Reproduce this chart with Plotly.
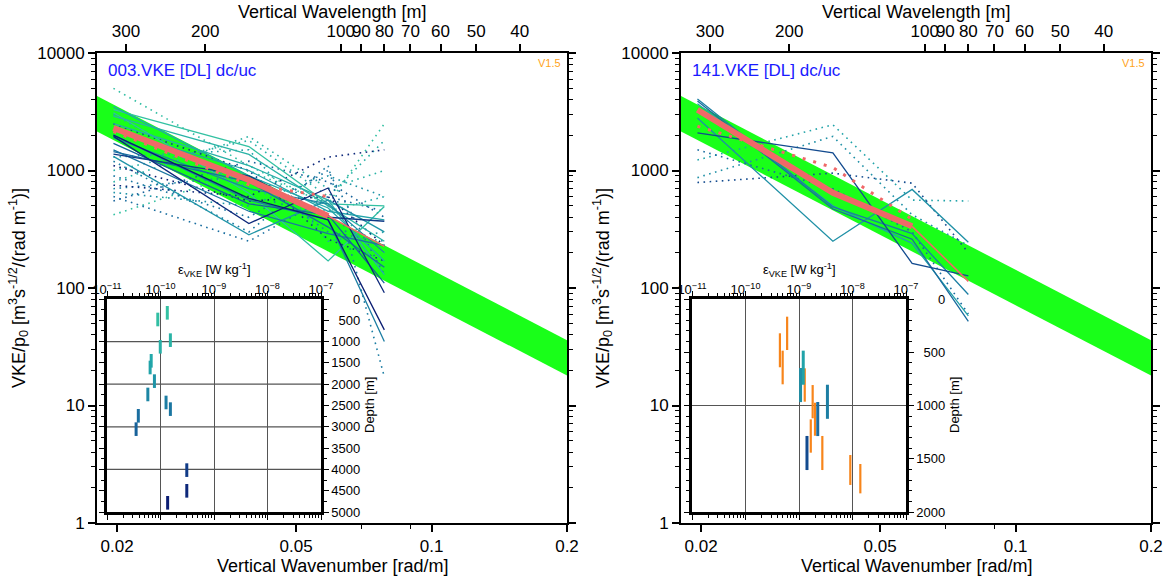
import plotly.graph_objects as go

W, H = 1172, 582
FONT = "Liberation Sans, Arial, Helvetica, sans-serif"
GREEN = "#19ff19"
RED = "#f06868"
ORANGE = "#f7851b"
TITLE_BLUE = "#1a1aff"

# ---------------------------------------------------------------- data
# wavenumber bins of the 320 m spectral window [rad/m]
k_bins = [0.019635, 0.039270, 0.058905, 0.078540]
window_len = 320

# k^-2 reference band, evaluated at the ends of the wavenumber axis
band_k = [0.01805, 0.2]
band_hi = [4300, 36]
band_lo = [2150, 18]

# wavelength ticks of the upper axis [m]
wavelength_ticks = [300, 200, 100, 90, 80, 70, 60, 50, 40]
wavenumber_ticks = [0.02, 0.05, 0.1, 0.2]

# ---- profile 003: segment tops [m], dissipation rate [W/kg]
p003_ztop = [164, 321, 806, 962, 1291, 1448, 1768, 2081, 2269, 2425, 2582, 2895, 3857, 4343, 4624]
p003_eps = [1.34e-10, 8.9e-11, 1.53e-10, 9.9e-11, 6.7e-11, 6.4e-11, 7.7e-11, 5.8e-11,
            1.27e-10, 1.53e-10, 3.85e-11, 3.5e-11, 3.1e-10, 3.1e-10, 1.36e-10]
p003_zmax = 5000
# spectra per segment (downcast solid, upcast dotted)
p003_dc = [
    [3300, 1600, 520, 500],
    [3100, 640, 170, 494],
    [2900, 1370, 500, 250],
    [2500, 1100, 560, 130],
    [3500, 900, 480, 170],
    [2200, 1000, 450, 380],
    [1320, 284, 560, 300],
    [1900, 700, 520, 200],
    [2000, 560, 380, 35],
    [1500, 450, 290, 230],
    [1450, 800, 330, 150],
    [1700, 520, 420, 110],
    [1380, 900, 400, 370],
    [1950, 354, 710, 91],
    [2000, 580, 380, 44],
]
p003_uc = [
    [420, 1000, 520, 2500],
    [5000, 1100, 500, 200],
    [800, 1950, 700, 1000],
    [1000, 1800, 600, 1800],
    [3000, 700, 450, 600],
    [1300, 1500, 250, 300],
    [650, 500, 900, 600],
    [700, 900, 300, 250],
    [1200, 300, 1100, 17.5],
    [900, 400, 1000, 130],
    [600, 250, 600, 450],
    [550, 1200, 800, 400],
    [2500, 1000, 260, 170],
    [750, 600, 1300, 1500],
    [1100, 550, 600, 230],
]
p003_mean = [2300, 830, 410, 226]
p003_mean_uc = [2150, 760, 600]

# ---- profile 141
p141_ztop = [485, 648, 805, 967, 1286]
p141_eps = [1.2e-9, 1.07e-9, 3.4e-9, 2.24e-9, 1.41e-9]
p141_zmax = 2000
p141_dc = [
    [3700, 500, 240, 58],
    [2800, 250, 690, 245],
    [4060, 490, 290, 88],
    [3900, 470, 260, 52],
    [2090, 1410, 162, 127],
]
p141_uc = [
    [1230, 2450, 560, 550],
    [870, 1950, 420, 230],
    None,
    [1500, 700, 300, 60],
    [790, 950, 780, 200],
]
p141_mean = [3290, 645, 335, 114]
p141_mean_uc = [2380, 1060, 384]
# second estimate of the dissipation rate (orange bars)
p141_alt_ztop = [166, 322, 485, 651, 808, 974, 1130, 1286, 1465, 1549]
p141_alt_zbot = [479, 641, 801, 964, 1120, 1284, 1443, 1606, 1746, 1825]
p141_alt_eps = [6.0e-10, 4.4e-10, 4.95e-10, 1.28e-9, 1.8e-9, 1.99e-9, 1.66e-9, 2.73e-9, 9.1e-9, 1.4e-8]


# ---------------------------------------------------------------- helpers
def px(x):
    return x / W


def py(y):
    return 1 - y / H


COLOR_STOPS = [(0.0, (56, 200, 160)), (0.3, (34, 168, 170)), (0.55, (26, 110, 160)),
               (0.8, (16, 60, 135)), (1.0, (10, 20, 110))]


def depth_color(t):
    t = min(max(t, 0.0), 1.0)
    for (t0, c0), (t1, c1) in zip(COLOR_STOPS[:-1], COLOR_STOPS[1:]):
        if t <= t1:
            f = (t - t0) / (t1 - t0)
            r, g, b = (round(a + (b_ - a) * f) for a, b_ in zip(c0, c1))
            return f"rgb({r},{g},{b})"
    return "rgb(10,20,110)"


fig = go.Figure()


def add_panel(ax, ztop, eps, zmax, dc, uc, mean, mean_uc, alt=None):
    xa, ya, xt, xi, yi = ax
    # reference band
    fig.add_trace(go.Scatter(x=band_k + band_k[::-1], y=band_hi + band_lo[::-1],
                             fill="toself", fillcolor=GREEN, mode="lines",
                             line=dict(width=0, color=GREEN),
                             xaxis=xa, yaxis=ya, hoverinfo="skip", showlegend=False))
    colors = [depth_color((z + window_len / 2) / zmax) for z in ztop]
    for spec, c in zip(uc, colors):
        if spec is None:
            continue
        fig.add_trace(go.Scatter(x=k_bins, y=spec, mode="lines",
                                 line=dict(color=c, width=1.6, dash="1.6px,4.5px"),
                                 xaxis=xa, yaxis=ya, hoverinfo="skip", showlegend=False))
    for spec, c in zip(dc, colors):
        fig.add_trace(go.Scatter(x=k_bins, y=spec, mode="lines",
                                 line=dict(color=c, width=1.3),
                                 xaxis=xa, yaxis=ya, hoverinfo="skip", showlegend=False))
    # mean spectra
    fig.add_trace(go.Scatter(x=k_bins[:len(mean_uc)], y=mean_uc, mode="lines",
                             line=dict(color=RED, width=3, dash="3px,8px"),
                             xaxis=xa, yaxis=ya, hoverinfo="skip", showlegend=False))
    fig.add_trace(go.Scatter(x=k_bins[2:], y=mean[2:], mode="lines",
                             line=dict(color=RED, width=1.6),
                             xaxis=xa, yaxis=ya, hoverinfo="skip", showlegend=False))
    fig.add_trace(go.Scatter(x=k_bins[:3], y=mean[:3], mode="lines",
                             line=dict(color=RED, width=6),
                             xaxis=xa, yaxis=ya, hoverinfo="skip", showlegend=False))
    # upper (wavelength) axis carrier
    fig.add_trace(go.Scatter(x=[], y=[], xaxis=xt, yaxis=ya, hoverinfo="skip", showlegend=False))
    # inset: dissipation rate versus depth
    if alt is not None:
        a_top, a_bot, a_eps = alt
        for z0, z1, e in zip(a_top, a_bot, a_eps):
            fig.add_trace(go.Scatter(x=[e, e], y=[z0, z1], mode="lines",
                                     line=dict(color=ORANGE, width=2.2),
                                     xaxis=xi, yaxis=yi, hoverinfo="skip", showlegend=False))
    for z0, e, c in zip(ztop, eps, colors):
        fig.add_trace(go.Scatter(x=[e, e], y=[z0, z0 + window_len], mode="lines",
                                 line=dict(color=c, width=3),
                                 xaxis=xi, yaxis=yi, hoverinfo="skip", showlegend=False))


add_panel(("x", "y", "x2", "x3", "y3"), p003_ztop, p003_eps, p003_zmax,
          p003_dc, p003_uc, p003_mean, p003_mean_uc)
add_panel(("x4", "y4", "x5", "x6", "y6"), p141_ztop, p141_eps, p141_zmax,
          p141_dc, p141_uc, p141_mean, p141_mean_uc,
          alt=(p141_alt_ztop, p141_alt_zbot, p141_alt_eps))

# ---------------------------------------------------------------- axes
XR = [-1.7435, -0.69897]
y_minor = [m * 10 ** e for e in range(0, 4) for m in range(2, 10)]
eps_ticks = [1e-11, 1e-10, 1e-9, 1e-8, 1e-7]
eps_text = ["10<sup>−11</sup>", "10<sup>−10</sup>", "10<sup>−9</sup>", "10<sup>−8</sup>", "10<sup>−7</sup>"]
eps_minor = [m * 10 ** e for e in range(-11, -7) for m in range(2, 10)]

tick_font = dict(family=FONT, size=17, color="black")
small_font = dict(family=FONT, size=13, color="black")


def main_axes(xdom, xname, yname):
    ydom = [py(523), py(53)]
    bottom = dict(type="log", range=XR, domain=xdom, anchor=yname, automargin=False,
                  tickvals=wavenumber_ticks, ticktext=["0.02", "0.05", "0.1", "0.2"],
                  ticks="outside", ticklen=7, tickwidth=1.5, tickcolor="black", tickangle=0,
                  minor=dict(tickvals=[0.07, 0.09], ticks="outside", ticklen=4,
                             tickwidth=1.2, tickcolor="black", showgrid=False),
                  showline=True, linewidth=2, linecolor="black", mirror=False,
                  showgrid=False, zeroline=False, tickfont=tick_font)
    left = dict(type="log", range=[0, 4], domain=ydom, anchor=xname, automargin=False,
                tickvals=[1, 10, 100, 1000, 10000], ticktext=["1", "10", "100", "1000", "10000"],
                ticks="outside", ticklen=7, tickwidth=1.5, tickcolor="black",
                minor=dict(tickvals=y_minor, ticks="outside", ticklen=4,
                           tickwidth=1.2, tickcolor="black", showgrid=False),
                showline=True, linewidth=2, linecolor="black", mirror="ticks",
                showgrid=False, zeroline=False, tickfont=tick_font)
    top = dict(type="log", range=XR, overlaying=xname, anchor=yname, side="top", automargin=False,
               tickvals=[6.283185307 / w for w in wavelength_ticks],
               ticktext=[str(w) for w in wavelength_ticks],
               ticks="outside", ticklen=7, tickwidth=1.5, tickcolor="black", tickangle=0,
               showline=True, linewidth=2, linecolor="black",
               showgrid=False, zeroline=False, tickfont=tick_font)
    return bottom, left, top


def inset_axes(xdom, xname, yname, zmax, minor_step):
    ydom = [py(512), py(299)]
    depth_vals = list(range(0, zmax + 1, 500))
    depth_text = [f"{v:>4}".replace(" ", "\u2007") for v in depth_vals]
    xi = dict(type="log", range=[-11, -7], domain=xdom, anchor=yname, side="top", automargin=False,
              tickvals=eps_ticks, ticktext=eps_text, tickangle=0, ticklabelstandoff=-8,
              ticks="outside", ticklen=5, tickwidth=1.2, tickcolor="black",
              minor=dict(tickvals=eps_minor, ticks="outside", ticklen=3,
                         tickwidth=1, tickcolor="black", showgrid=False),
              showline=True, linewidth=2.5, linecolor="black", mirror="ticks",
              showgrid=True, gridcolor="#555555", gridwidth=1.2, zeroline=False,
              tickfont=small_font)
    yi = dict(range=[zmax, 0], domain=ydom, anchor=xname, side="right", automargin=False,
              tickvals=depth_vals, ticktext=depth_text,
              ticks="outside", ticklen=5, tickwidth=1.2, tickcolor="black",
              minor=dict(dtick=minor_step, ticks="outside", ticklen=3,
                         tickwidth=1, tickcolor="black", showgrid=False),
              showline=True, linewidth=2.5, linecolor="black", mirror="ticks",
              showgrid=False, zeroline=False, tickfont=small_font)
    return xi, yi


b1, l1, t1 = main_axes([px(97), px(567)], "x", "y")
b2, l2, t2 = main_axes([px(681), px(1151)], "x4", "y4")
i1x, i1y = inset_axes([px(107), px(321)], "x3", "y3", p003_zmax, 250)
i2x, i2y = inset_axes([px(692), px(906)], "x6", "y6", p141_zmax, 100)

# horizontal depth grid of the insets
shapes = []
for yref, xref, zmax in (("y3", "x3 domain", p003_zmax), ("y6", "x6 domain", p141_zmax)):
    for z in range(1000, zmax, 1000):
        shapes.append(dict(type="line", xref=xref, yref=yref, x0=0, x1=1, y0=z, y1=z,
                           line=dict(color="#555555", width=1.2), layer="below"))

# ---------------------------------------------------------------- text
ytitle = "VKE/p<sub>0</sub> [m<sup>3</sup>s<sup>-1/2</sup>/(rad m<sup>-1</sup>)]"
eps_title = "ε<sub>VKE</sub> [W kg<sup>-1</sup>]"
ann = []
for x0, x1, label in ((97, 567, "003.VKE [DL] dc/uc"), (681, 1151, "141.VKE [DL] dc/uc")):
    xc = (x0 + x1) / 2
    ann += [
        dict(text="Vertical Wavelength [m]", x=px(xc), y=py(12), font=dict(family=FONT, size=18)),
        dict(text="Vertical Wavenumber [rad/m]", x=px(xc), y=py(566), font=dict(family=FONT, size=18)),
        dict(text=ytitle, x=px(x0 - 79), y=py(288), textangle=-90, font=dict(family=FONT, size=18)),
        dict(text=label, x=px(x0 + 9), y=py(70), xanchor="left",
             font=dict(family=FONT, size=17, color=TITLE_BLUE)),
        dict(text="V1.5", x=px(x1 - 4), y=py(63), xanchor="right",
             font=dict(family=FONT, size=11, color="#ffa31a")),
    ]
for x0, x1 in ((107, 321), (692, 906)):
    ann += [
        dict(text=eps_title, x=px((x0 + x1) / 2), y=py(270), font=dict(family=FONT, size=13)),
        dict(text="Depth [m]", x=px(x1 + 48), y=py(405), textangle=-90, font=dict(family=FONT, size=13)),
    ]
for a in ann:
    a.update(xref="paper", yref="paper", showarrow=False)
    a.setdefault("xanchor", "center")
    a["yanchor"] = "middle"
    a["font"].setdefault("color", "black")

fig.update_layout(
    template="none",
    width=W, height=H, margin=dict(l=0, r=0, t=0, b=0, autoexpand=False),
    paper_bgcolor="white", plot_bgcolor="rgba(0,0,0,0)",
    font=dict(family=FONT, color="black"),
    showlegend=False, hovermode=False,
    xaxis=b1, yaxis=l1, xaxis2=t1, xaxis3=i1x, yaxis3=i1y,
    xaxis4=b2, yaxis4=l2, xaxis5=t2, xaxis6=i2x, yaxis6=i2y,
    shapes=shapes, annotations=ann,
)

fig.write_html("out.html")
